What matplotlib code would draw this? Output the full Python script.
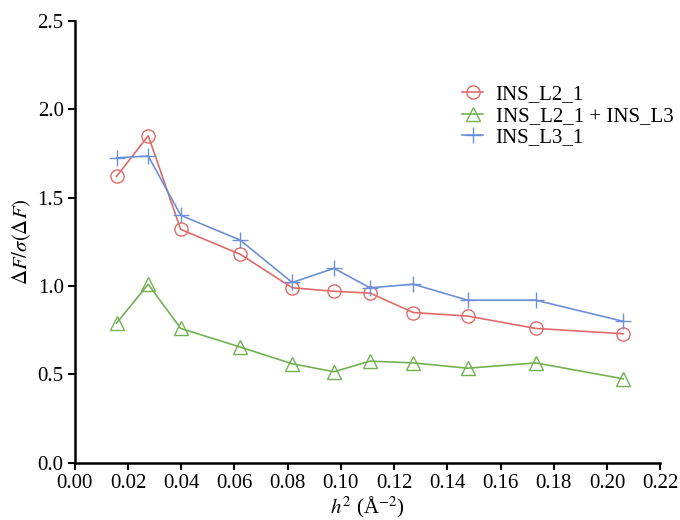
import matplotlib.pyplot as plt

plt.rcParams["font.family"] = ["Liberation Serif", "DejaVu Serif"]
plt.rcParams["mathtext.fontset"] = "stix"

h2 = [0.0157, 0.0276, 0.0398, 0.0621, 0.0817, 0.0974, 0.1109, 0.1272, 0.1476, 0.1732, 0.2061]
ins_l2_1 = [1.62, 1.85, 1.32, 1.18, 0.99, 0.97, 0.96, 0.85, 0.83, 0.76, 0.73]
ins_l2_1_l3 = [0.79, 1.01, 0.76, 0.655, 0.56, 0.515, 0.575, 0.565, 0.535, 0.565, 0.475]
ins_l3_1 = [1.725, 1.735, 1.40, 1.26, 1.02, 1.10, 0.99, 1.01, 0.92, 0.92, 0.80]

fig = plt.figure(figsize=(6.8, 5.2), dpi=100)
ax = fig.add_axes([0.110, 0.110, 0.861, 0.850])

ax.plot(h2, ins_l2_1, color="#e06a6a", linewidth=1.2, marker="o", markersize=9.5,
        markerfacecolor="none", markeredgewidth=1.0, label="INS_L2_1")
ax.plot(h2, ins_l2_1_l3, color="#72b152", linewidth=1.2, marker="^", markersize=10,
        markerfacecolor="none", markeredgewidth=1.0, label="INS_L2_1 + INS_L3")
ax.plot(h2, ins_l3_1, color="#6b8fd8", linewidth=1.2, marker="+", markersize=12,
        markeredgewidth=1.0, label="INS_L3_1")

ax.set_xlim(0, 0.22)
ax.set_ylim(0, 2.5)
ax.set_xticks([i * 0.02 for i in range(12)])
ax.set_xticklabels([f"{i * 0.02:.2f}" for i in range(12)])
ax.set_yticks([0, 0.5, 1.0, 1.5, 2.0, 2.5])
ax.set_yticklabels(["0.0", "0.5", "1.0", "1.5", "2.0", "2.5"])
ax.tick_params(labelsize=15, width=1.5, length=5, direction="out", pad=3)

for side in ("top", "right"):
    ax.spines[side].set_visible(False)
for side in ("left", "bottom"):
    ax.spines[side].set_linewidth(1.8)

ax.set_xlabel(r"$h^2$ (Å$^{-2}$)", fontsize=15, labelpad=1)
ax.set_ylabel(r"$\Delta F/\sigma(\Delta F)$", fontsize=15, labelpad=3)

ax.legend(loc="upper left", bbox_to_anchor=(0.63, 0.898), frameon=False, fontsize=15,
          handlelength=1.0, handletextpad=0.6, labelspacing=0.1)

fig.savefig("out.png", dpi=100)
